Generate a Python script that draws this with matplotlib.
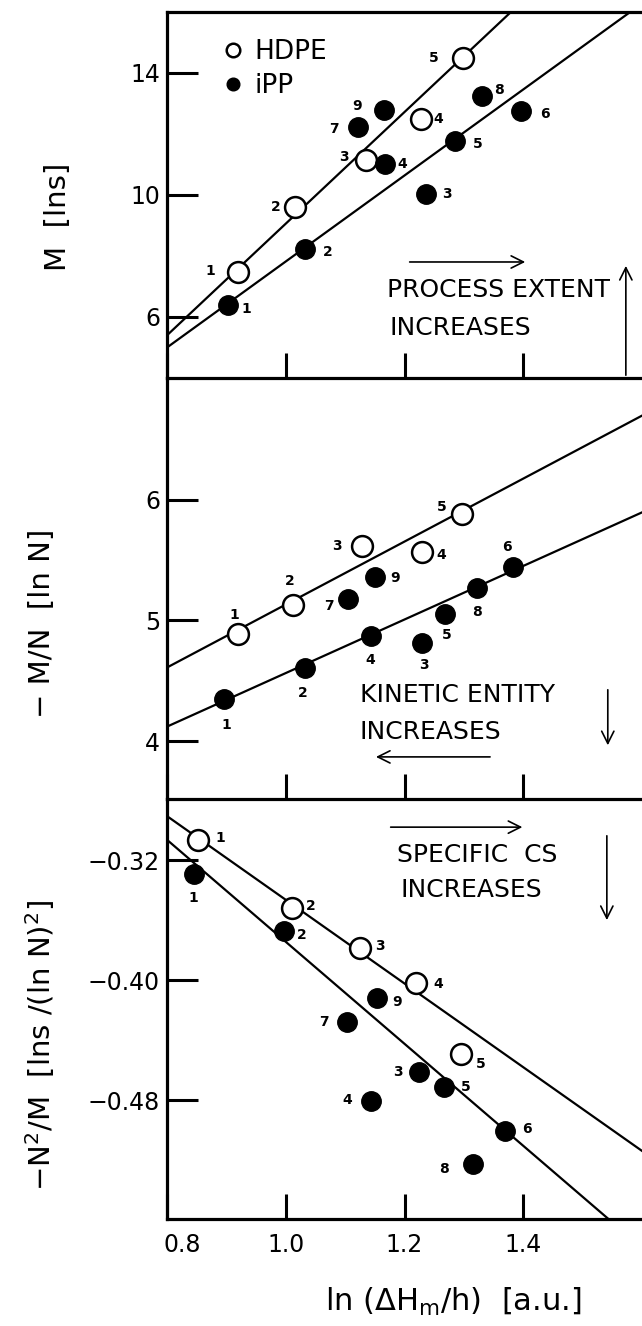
import numpy as np
import matplotlib.pyplot as plt
from matplotlib.transforms import ScaledTranslation

plt.rcParams['font.family'] = ['DejaVu Sans']
plt.rcParams['mathtext.default'] = 'regular'

# ---- data ----
hdpe_ids = ['1', '2', '3', '4', '5']
ipp_ids = ['1', '2', '3', '4', '5', '6', '7', '8', '9']

# top panel: M [lns]
x_hdpe_m = [0.919, 1.015, 1.136, 1.228, 1.298]
m_hdpe = [7.46, 9.62, 11.14, 12.49, 14.49]
x_ipp_m = [0.903, 1.032, 1.237, 1.167, 1.285, 1.397, 1.121, 1.330, 1.165]
m_ipp = [6.40, 8.22, 10.02, 11.03, 11.78, 12.76, 12.24, 13.24, 12.78]

# middle panel: -M/N [ln N]
x_hdpe_mn = [0.920, 1.012, 1.129, 1.229, 1.296]
mn_hdpe = [4.885, 5.13, 5.62, 5.57, 5.88]
x_ipp_mn = [0.896, 1.032, 1.229, 1.144, 1.269, 1.382, 1.105, 1.322, 1.150]
mn_ipp = [4.35, 4.61, 4.81, 4.87, 5.05, 5.44, 5.18, 5.27, 5.36]

# bottom panel: -N^2/M
x_hdpe_nm = [0.853, 1.010, 1.125, 1.220, 1.295]
nm_hdpe = [-0.3065, -0.3519, -0.3783, -0.4019, -0.4493]
x_ipp_nm = [0.845, 0.997, 1.224, 1.144, 1.266, 1.369, 1.103, 1.316, 1.154]
nm_ipp = [-0.3294, -0.3673, -0.4611, -0.4803, -0.4711, -0.5004, -0.4277, -0.5225, -0.4122]

# straight lines drawn in each panel: y = a + b*x
fit_m_hdpe = (-9.24, 18.3)
fit_m_ipp = (-6.28, 14.1)
fit_mn_hdpe = (2.522, 2.61)
fit_mn_ipp = (2.344, 2.22)
fit_nm_hdpe = (-0.0675, -0.279)
fit_nm_ipp = (-0.0345, -0.340)

x_ticks = [0.8, 1.0, 1.2, 1.4]
x_ticklabels = ['0.8', '1.0', '1.2', '1.4']

# ---- layout (pixel offsets of the point numbers) ----
off_m_hdpe = [(-27, 1), (-19, 0), (-23, 3), (17, 0), (-29, 0)]
off_m_ipp = [(18, -4), (23, -3), (20, 0), (17, 0), (23, -3), (23, -3), (-24, -2), (17, 6), (-27, 4)]
off_mn_hdpe = [(-4, 19), (-3, 24), (-25, 0), (20, -3), (-20, 7)]
off_mn_ipp = [(2, -26), (-2, -25), (2, -22), (-1, -24), (1, -21), (-6, 20), (-19, -7), (0, -24), (20, -1)]
off_nm_hdpe = [(22, 2), (19, 2), (20, 2), (22, -1), (20, -10)]
off_nm_ipp = [(0, -24), (18, -4), (-21, 0), (-24, 0), (22, 0), (22, 2), (-23, 0), (-29, -5), (20, -4)]

W_PX, H_PX = 642, 1326
fig = plt.figure(figsize=(W_PX / 100, H_PX / 100), dpi=100)

left = 167 / W_PX
width = 1 - left
ax_top = fig.add_axes([left, 1 - 378 / H_PX, width, 366 / H_PX])
ax_mid = fig.add_axes([left, 1 - 799 / H_PX, width, 421 / H_PX])
ax_bot = fig.add_axes([left, 1 - 1219 / H_PX, width, 420 / H_PX])

panels = [
    (ax_top, x_hdpe_m, m_hdpe, x_ipp_m, m_ipp, fit_m_hdpe, fit_m_ipp,
     off_m_hdpe, off_m_ipp, (4.0, 16.0), [6, 10, 14], ['6', '10', '14']),
    (ax_mid, x_hdpe_mn, mn_hdpe, x_ipp_mn, mn_ipp, fit_mn_hdpe, fit_mn_ipp,
     off_mn_hdpe, off_mn_ipp, (3.52, 7.01), [4, 5, 6], ['4', '5', '6']),
    (ax_bot, x_hdpe_nm, nm_hdpe, x_ipp_nm, nm_ipp, fit_nm_hdpe, fit_nm_ipp,
     off_nm_hdpe, off_nm_ipp, (-0.5593, -0.2793), [-0.48, -0.40, -0.32],
     ['\u22120.48', '\u22120.40', '\u22120.32']),
]

xx = np.linspace(0.8, 1.6, 50)
for (ax, xh, yh, xp, yp, fh, fp, oh, op, ylim, yt, ytl) in panels:
    ax.set_xlim(0.8, 1.6)
    ax.set_ylim(*ylim)
    ax.plot(xx, fh[0] + fh[1] * xx, color='black', lw=1.6, zorder=2)
    ax.plot(xx, fp[0] + fp[1] * xx, color='black', lw=1.6, zorder=2)
    ax.plot(xh, yh, 'o', ms=15, mfc='white', mec='black', mew=1.8,
            zorder=3, label='HDPE')
    ax.plot(xp, yp, 'o', ms=14, color='black', zorder=3, label='iPP')
    for i, lab in enumerate(hdpe_ids):
        ax.annotate(lab, (xh[i], yh[i]), xytext=oh[i], textcoords='offset pixels',
                    ha='center', va='center', fontsize=10, fontweight='bold')
    for i, lab in enumerate(ipp_ids):
        ax.annotate(lab, (xp[i], yp[i]), xytext=op[i], textcoords='offset pixels',
                    ha='center', va='center', fontsize=10, fontweight='bold')
    ax.set_yticks(yt)
    ax.set_yticklabels(ytl)
    ax.set_xticks(x_ticks)
    ax.set_xticklabels(x_ticklabels)
    ax.tick_params(axis='y', direction='in', length=22, width=2.2, pad=5, labelsize=17)
    ax.tick_params(axis='x', direction='in', length=18, width=2.2, pad=10, labelsize=17)
    ax.spines['right'].set_visible(False)
    for s in ax.spines.values():
        s.set_linewidth(2.3)
    ax.patch.set_alpha(0)

ax_top.tick_params(axis='x', labelbottom=False)
ax_mid.tick_params(axis='x', labelbottom=False)
ax_mid.spines['top'].set_visible(False)
ax_bot.spines['top'].set_visible(False)

# nudge the 0.8 label to the right like in the original
lab0 = ax_bot.get_xticklabels()[0]
lab0.set_transform(lab0.get_transform() + ScaledTranslation(0.15, 0, fig.dpi_scale_trans))

ax_top.legend(loc='upper left', bbox_to_anchor=(0.12, 0.925), frameon=False,
              fontsize=19, markerscale=0.65, handlelength=0.7, handletextpad=0.45,
              labelspacing=0.3, borderaxespad=0, borderpad=0)

arrow = dict(arrowstyle='->', lw=1.2, color='black', mutation_scale=22)
txt = dict(fontsize=18, ha='left', va='center')

# top panel notes
ax_top.annotate('', xy=(0.760, 0.317), xytext=(0.505, 0.317),
                xycoords='axes fraction', arrowprops=arrow)
ax_top.text(0.463, 0.240, 'PROCESS EXTENT', transform=ax_top.transAxes, **txt)
ax_top.text(0.469, 0.137, 'INCREASES', transform=ax_top.transAxes, **txt)
ax_top.annotate('', xy=(0.966, 0.314), xytext=(0.966, 0.0),
                xycoords='axes fraction', arrowprops=arrow)

# middle panel notes
ax_mid.text(0.406, 0.247, 'KINETIC ENTITY', transform=ax_mid.transAxes, **txt)
ax_mid.text(0.406, 0.159, 'INCREASES', transform=ax_mid.transAxes, **txt)
ax_mid.annotate('', xy=(0.434, 0.100), xytext=(0.686, 0.100),
                xycoords='axes fraction', arrowprops=arrow)
ax_mid.annotate('', xy=(0.928, 0.121), xytext=(0.928, 0.266),
                xycoords='axes fraction', arrowprops=arrow)

# bottom panel notes
ax_bot.annotate('', xy=(0.754, 0.933), xytext=(0.465, 0.933),
                xycoords='axes fraction', arrowprops=arrow)
ax_bot.text(0.484, 0.867, 'SPECIFIC  CS', transform=ax_bot.transAxes, **txt)
ax_bot.text(0.491, 0.783, 'INCREASES', transform=ax_bot.transAxes, **txt)
ax_bot.annotate('', xy=(0.926, 0.705), xytext=(0.926, 0.919),
                xycoords='axes fraction', arrowprops=arrow)

# axis titles
fig.text(58 / W_PX, 1 - 217 / H_PX, 'M  [lns]', rotation=90,
         ha='center', va='center', fontsize=21)
fig.text(42 / W_PX, 1 - 623 / H_PX, '\u2212 M/N  [ln N]', rotation=90,
         ha='center', va='center', fontsize=21)
fig.text(40 / W_PX, 1 - 1045 / H_PX, '\u2212N$^2$/M  [lns /(ln N)$^2$]', rotation=90,
         ha='center', va='center', fontsize=21)
fig.text(453 / W_PX, 1 - 1302 / H_PX, 'ln (\u0394H$_m$/h)  [a.u.]',
         ha='center', va='center', fontsize=22)

fig.savefig('out.png', dpi=100)
